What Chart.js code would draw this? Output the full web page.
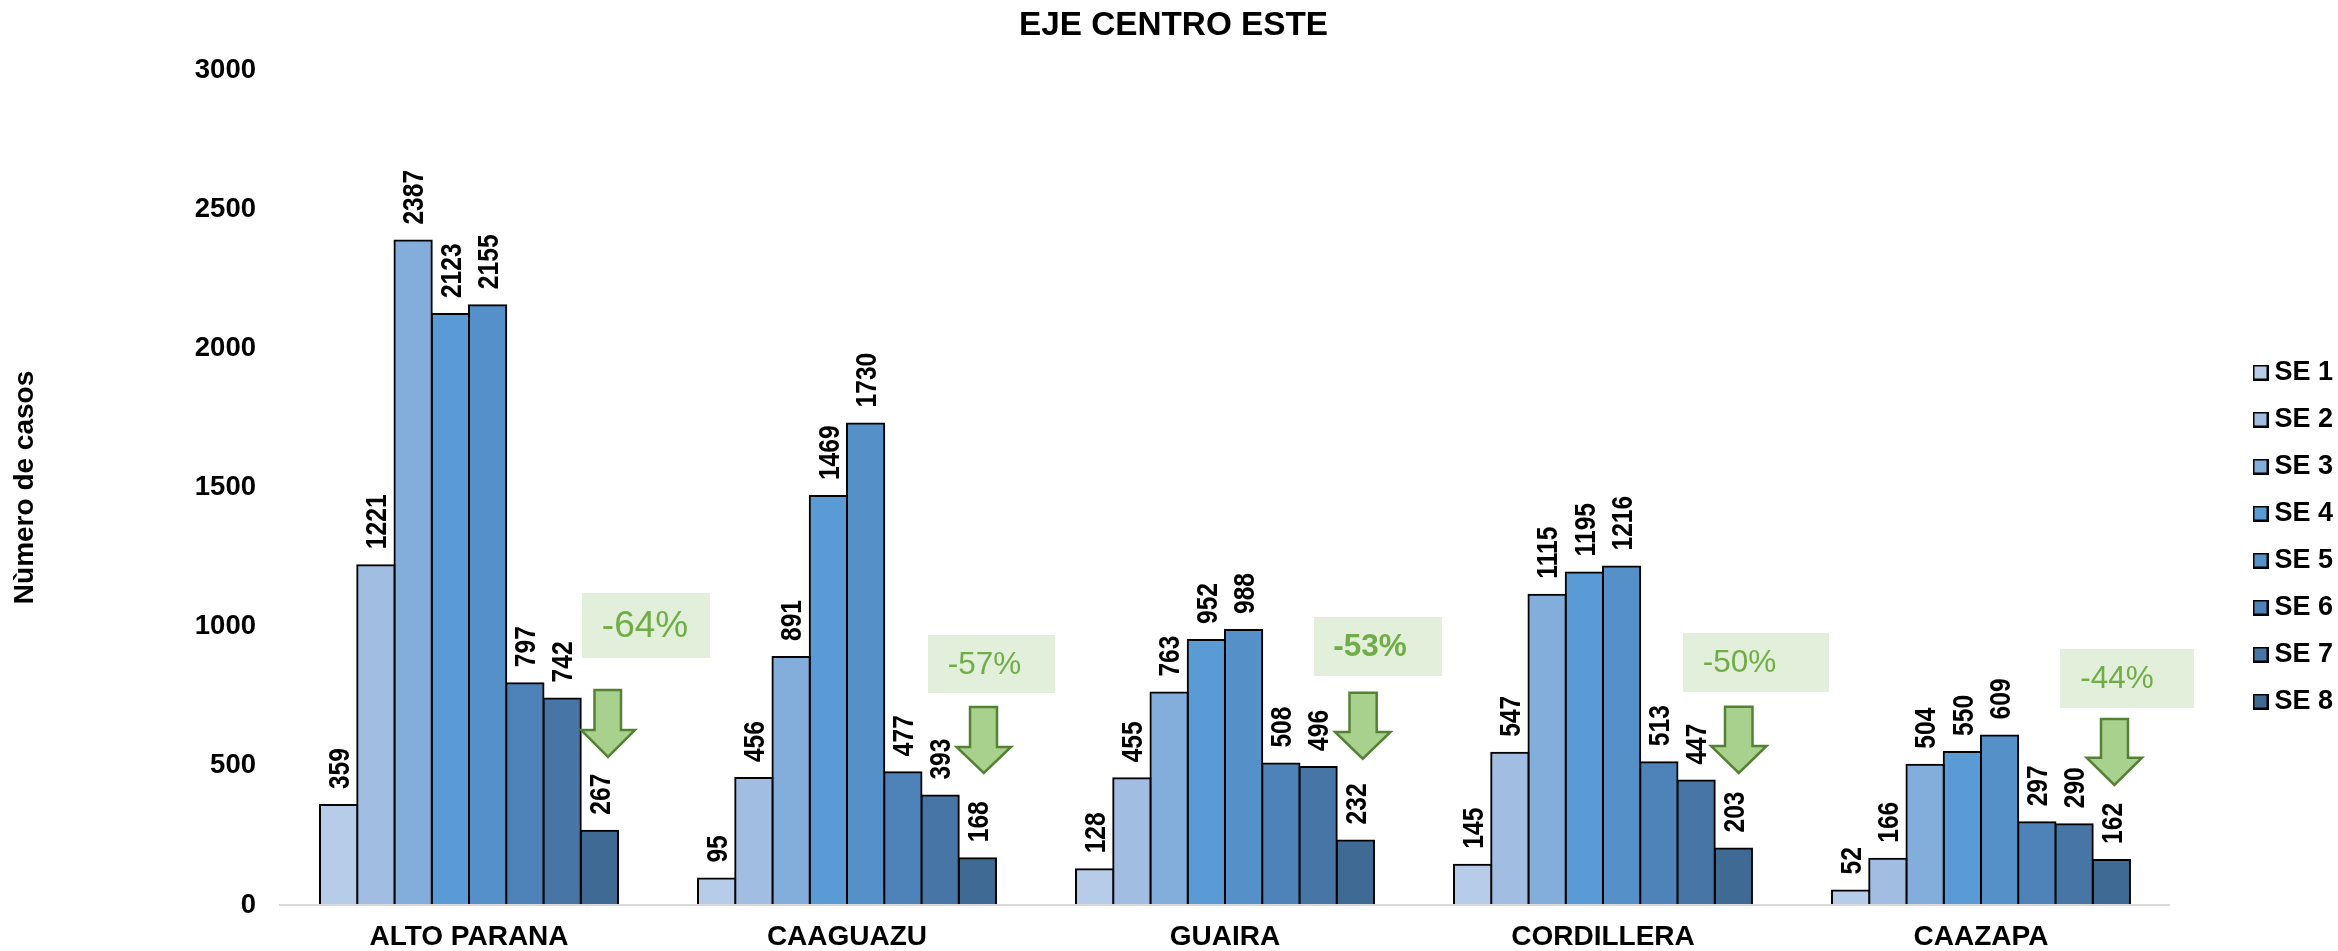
<!DOCTYPE html>
<html lang="es">
<head>
<meta charset="utf-8">
<title>EJE CENTRO ESTE</title>
<script src="https://cdn.jsdelivr.net/npm/chart.js@4/dist/chart.umd.min.js"></script>
<style>html,body{margin:0;padding:0;background:#fff}canvas{display:block}</style>
</head>
<body>
<canvas id="c" width="2338" height="951"></canvas>
<script>
const categories = ['ALTO PARANA', 'CAAGUAZU', 'GUAIRA', 'CORDILLERA', 'CAAZAPA'];
const seriesNames = ['SE 1', 'SE 2', 'SE 3', 'SE 4', 'SE 5', 'SE 6', 'SE 7', 'SE 8'];
const se1 = [359, 95, 128, 145, 52];
const se2 = [1221, 456, 455, 547, 166];
const se3 = [2387, 891, 763, 1115, 504];
const se4 = [2123, 1469, 952, 1195, 550];
const se5 = [2155, 1730, 988, 1216, 609];
const se6 = [797, 477, 508, 513, 297];
const se7 = [742, 393, 496, 447, 290];
const se8 = [267, 168, 232, 203, 162];
const seriesValues = [se1, se2, se3, se4, se5, se6, se7, se8];
const seriesColors = ['#B7CCE8', '#A1BDE2', '#83ADDB', '#5B9BD5', '#5590C8', '#4D83B8', '#4776A6', '#3E6A94'];
const changeLabels = ['-64%', '-57%', '-53%', '-50%', '-44%'];
const changeBold = [false, false, true, false, false];

// Callout layout in page pixels: box [x0,y0,x1,y1], text centre [x,y,size], arrow [shaftL,shaftR,top,headY,headL,headR,tip]
const calloutBoxes = [[582,593,710,658],[928,635,1055,693],[1314,617,1442,676],[1683,633,1829,692],[2060,649,2194,708]];
const calloutTexts = [[645,627,37],[984.5,665,31.5],[1370,647,31.5],[1739.5,663,31.5],[2117,679,31.5]];
const calloutArrows = [
  [594.5,621,690,730,581,635,757],
  [970,997,707,747,956.6,1011,773],
  [1349.5,1376.7,692.7,732,1335,1390.5,758.7],
  [1725,1752.5,706.7,746,1711,1766.6,773],
  [2101,2128,719,757.7,2086.7,2142,785]
];

const FONT = '"Liberation Sans", Arial, sans-serif';

function swatch(color) {
  const s = document.createElement('canvas');
  s.width = 16; s.height = 16;
  const g = s.getContext('2d');
  g.fillStyle = color; g.fillRect(0, 0, 16, 16);
  g.strokeStyle = '#000'; g.lineWidth = 2; g.strokeRect(1, 1, 14, 14);
  return s;
}

const valueLabels = {
  id: 'valueLabels',
  afterDatasetsDraw(chart) {
    const ctx = chart.ctx;
    ctx.save();
    ctx.font = 'bold 30px ' + FONT;
    ctx.fillStyle = '#000';
    ctx.textAlign = 'left';
    ctx.textBaseline = 'middle';
    chart.data.datasets.forEach((ds, i) => {
      chart.getDatasetMeta(i).data.forEach((bar, j) => {
        ctx.save();
        ctx.translate(bar.x + 2, bar.y - 16);
        ctx.rotate(-Math.PI / 2);
        ctx.scale(0.82, 1);
        ctx.fillText(String(ds.data[j]), 0, 0);
        ctx.restore();
      });
    });
    ctx.restore();
  }
};

const callouts = {
  id: 'callouts',
  afterDraw(chart) {
    const ctx = chart.ctx;
    ctx.save();
    changeLabels.forEach((label, i) => {
      const b = calloutBoxes[i], t = calloutTexts[i], a = calloutArrows[i];
      ctx.fillStyle = '#E2EFDA';
      ctx.fillRect(b[0], b[1], b[2] - b[0], b[3] - b[1]);
      ctx.fillStyle = '#70AD47';
      ctx.font = (changeBold[i] ? 'bold ' : '') + t[2] + 'px ' + FONT;
      ctx.textAlign = 'center';
      ctx.textBaseline = 'middle';
      ctx.fillText(label, t[0], t[1]);
      ctx.beginPath();
      ctx.moveTo(a[0], a[2]);
      ctx.lineTo(a[1], a[2]);
      ctx.lineTo(a[1], a[3]);
      ctx.lineTo(a[5], a[3]);
      ctx.lineTo((a[4] + a[5]) / 2, a[6]);
      ctx.lineTo(a[4], a[3]);
      ctx.lineTo(a[0], a[3]);
      ctx.closePath();
      ctx.fillStyle = '#A9D18E';
      ctx.fill();
      ctx.strokeStyle = '#548235';
      ctx.lineWidth = 2.5;
      ctx.stroke();
    });
    ctx.restore();
  }
};

const placeBlocks = {
  id: 'placeBlocks',
  afterLayout(chart) {
    const lg = chart.legend;
    lg.left = 2240;
    lg.right = 2338;
    lg.top = 339;
    lg.bottom = 951;
    chart.titleBlock.left = 0;
    chart.titleBlock.right = 2347;
  }
};

new Chart(document.getElementById('c'), {
  type: 'bar',
  data: {
    labels: categories,
    datasets: seriesNames.map((name, i) => ({
      label: name,
      data: seriesValues[i],
      backgroundColor: seriesColors[i],
      borderColor: '#000',
      borderWidth: 2,
      inflateAmount: 1,
      categoryPercentage: 298 / 378,
      barPercentage: 1
    }))
  },
  options: {
    responsive: false,
    animation: false,
    layout: { padding: { left: 0, right: 65, top: 0, bottom: 0 } },
    plugins: {
      tooltip: { enabled: false },
      title: {
        display: true,
        text: 'EJE CENTRO ESTE',
        color: '#000',
        font: { family: FONT, size: 33.3, weight: 'bold', lineHeight: 1.2 },
        padding: { top: 6, bottom: 24 }
      },
      legend: {
        position: 'right',
        align: 'start',
        labels: {
          color: '#000',
          font: { family: FONT, size: 27, weight: 'bold', lineHeight: 1.2 },
          usePointStyle: true,
          pointStyleWidth: 1,
          boxHeight: 16,
          padding: 20,
          generateLabels(chart) {
            return Chart.defaults.plugins.legend.labels.generateLabels(chart).map((item, i) => {
              item.pointStyle = swatch(seriesColors[i]);
              return item;
            });
          }
        }
      }
    },
    scales: {
      x: {
        grid: { display: false },
        border: { color: '#D9D9D9', width: 2, z: 1 },
        ticks: { color: '#000', font: { family: FONT, size: 28, weight: 'bold' }, padding: 7, maxRotation: 0 },
        afterFit(s) { s.height = 46; }
      },
      y: {
        min: 0,
        max: 3000,
        grid: { display: false, drawTicks: false },
        border: { display: false },
        ticks: {
          stepSize: 500,
          color: '#000',
          font: { family: FONT, size: 27.5, weight: 'bold' },
          padding: 24,
          callback: v => String(v)
        },
        title: {
          display: true,
          text: 'Nùmero de casos',
          color: '#000',
          font: { family: FONT, size: 28, weight: 'bold', lineHeight: 1.2 },
          padding: { top: 8, bottom: 0 }
        },
        afterFit(s) { s.width = 280; }
      }
    }
  },
  plugins: [valueLabels, callouts, placeBlocks]
});
</script>
</body>
</html>
